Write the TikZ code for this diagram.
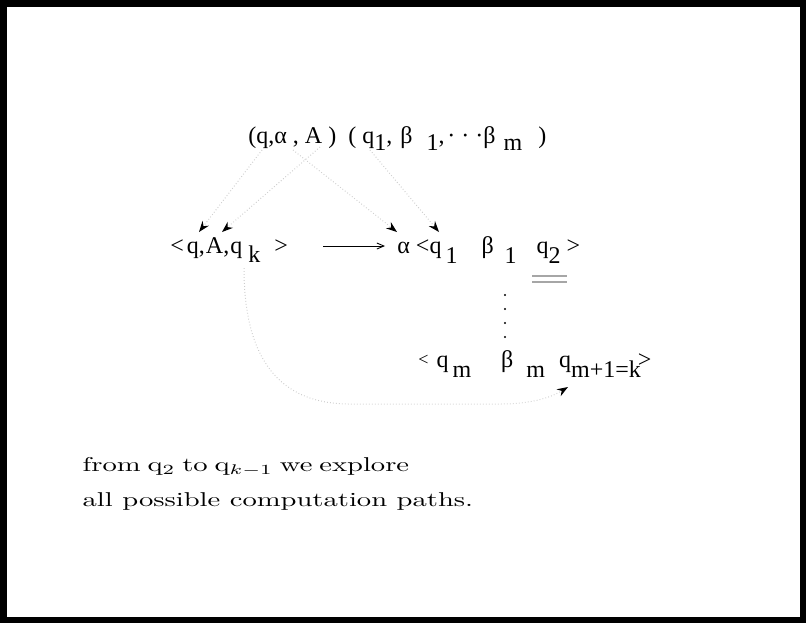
\documentclass[tikz,border=0pt]{standalone}
\usepackage{fontspec}
\newfontfamily\figfont{Liberation Serif}
\usetikzlibrary{arrows.meta,calc}
\newcommand{\lo}[2][3.5pt]{\raisebox{-#1}{#2}}

\tikzset{
  figtext/.style={font={\figfont\fontsize{12}{14}\selectfont}, inner sep=0pt, anchor=base west},
  notetext/.style={font={\fontsize{10}{12}\selectfont}, inner sep=0pt, anchor=base west,
                   xscale=1.43, transform shape},
  dotarrow/.style={gray!40, dash pattern=on 0.4pt off 1.1pt, line width=0.5pt,
                   -{Stealth[black, length=5.5pt, width=4pt, inset=1.8pt]}},
  lin/.style={-{Straight Barb[length=3.5pt, width=3pt]}, line width=0.45pt}
}

\begin{document}
\begin{tikzpicture}[x=0.5pt, y=-0.5pt]
\useasboundingbox (0,0) rectangle (806,623);
\draw[line width=3.25pt] (3.25,3.25) rectangle (802.75,619.75);

% the transition
\node[figtext] (goal) at (248,143)
  {(q,α , A )\hspace{6pt}(\hspace{3pt}q\lo{1}, \hspace{1pt}β\hspace{7pt}\lo{1},\kern1.5pt·\kern3pt·\kern3pt·β\hspace{4pt}\lo{m}\hspace{8pt})};

% the triple and its expansion
\node[figtext] (lhs) at (170,253) {<\kern1.5pt q,\kern0.5pt A,\kern0.5pt q\ \lo[4.5pt]{k}\hspace{7pt}>};
\node[figtext] (rhs) at (397,253)
  {α <q\lo[5pt]{\,1}\hspace{12pt}β\hspace{5.5pt}\lo[5pt]{1}\hspace{10pt}q\lo[5pt]{2} >};
\node[figtext] (last) at (418,367)
  {\raisebox{1pt}{\small<}\hspace{4pt}q\,\lo[5pt]{m}\hspace{15pt}β\hspace{6.5pt}\lo[5pt]{m}\hspace{7pt}q\lo[5pt]{m+1=k}\hspace{-1.5pt}>};

\draw[lin] ($(lhs.base east)+(35,-7)$) -- ($(rhs.base west)+(-12,-7)$);

% q_2 marked
\draw[gray!70, line width=0.9pt] (532,276) -- (567,276);
\draw[gray!70, line width=0.9pt] (532,282) -- (567,282);

\foreach \y in {295,309,323,337}
  \fill (505,\y) circle (0.6pt);

% where the parts of the transition go
\coordinate (s1) at (262,150);
\coordinate (s2) at (320,147);
\coordinate (s3) at (293,150);
\coordinate (s4) at (370,150);
\coordinate (t1) at (199,232);
\coordinate (t2) at (222,232);
\coordinate (t3) at (397,232);
\coordinate (t4) at (439,232);
\draw[dotarrow] (s1) -- (t1);
\draw[dotarrow] (s2) -- (t2);
\draw[dotarrow] (s3) -- (t3);
\draw[dotarrow] (s4) -- (t4);

\coordinate (c0) at (244,268);
\coordinate (c1) at (568,387);
\draw[dotarrow] (c0) .. controls (244,360) and (280,404) .. (350,404)
  -- (500,404) .. controls (530,404) and (550,398) .. (c1);

\node[notetext] (note1) at (82,471) {\spaceskip=2.4pt plus 1pt from q$_2$ to q$_{k-1}$ we explore};
\node[notetext] (note2) at (82,506) {all possible computation paths.};
\end{tikzpicture}
\end{document}
